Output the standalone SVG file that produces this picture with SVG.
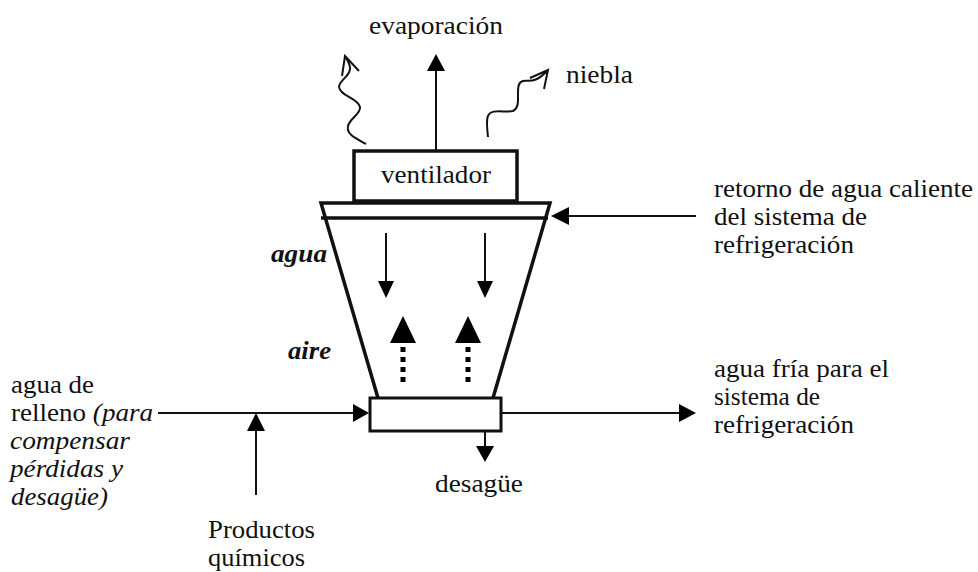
<svg xmlns="http://www.w3.org/2000/svg" width="978" height="572" viewBox="0 0 978 572">
<style>
text{font-family:"Liberation Serif","Times New Roman",serif;font-size:25.5px;fill:#111}
.i{font-style:italic}.b{font-weight:bold;font-style:italic}
.thin{fill:none;stroke:#111;stroke-width:2}
.thick{fill:none;stroke:#111;stroke-width:3.5}
.box{fill:#fff;stroke:#111;stroke-width:3}
.head{fill:#000;stroke:none}
.dash{fill:none;stroke:#000;stroke-width:5;stroke-dasharray:5 5}
</style>
<rect width="978" height="572" fill="#fff"/>
<g id="connectors">
<path class="thin" d="M436 150V70"/><polygon class="head" points="436,54 427,71 445,71"/>
<path class="thin" d="M366 144C355 138 346 134 348 126C350 118 361 114 360 107C358 98 340 96 339 87C339 80 351 76 350 68C350 63 347 60 345 56M342 76L345 56L359 71"/>
<path class="thin" d="M488 137C487 128 486 120 488 116C491 108 505 113 513 111C519 108 518 100 518 94C518 88 518 82 523 81C530 80 535 84 548 70M530 78L548 70L544 89"/>
<path class="thin" d="M696 216H568"/><polygon class="head" points="551,216 569,207 569,225"/>
<path class="thin" d="M386 233V282"/><polygon class="head" points="386,298 378,281 394,281"/>
<path class="thin" d="M485 233V282"/><polygon class="head" points="485,298 477,281 493,281"/>
<path class="dash" d="M403 347V382"/><polygon class="head" points="403,316 390,343 416,343"/>
<path class="dash" d="M468 347V382"/><polygon class="head" points="468,316 455,343 481,343"/>
<path class="thin" d="M158 413H354"/><polygon class="head" points="369,413 353,404 353,422"/>
<path class="thin" d="M256 495V431"/><polygon class="head" points="256,413 247,431 265,431"/>
<path class="thin" d="M501 413H680"/><polygon class="head" points="696,413 679,404 679,422"/>
<path class="thin" d="M485 432V448"/><polygon class="head" points="485,462 476,446 494,446"/>
</g>
<g id="torre"><path class="thick" d="M378 398L321 203H550L493 398"/><path class="thick" d="M321 218H548"/></g>
<g id="ventilador"><rect class="box" x="354" y="151" width="163" height="50" style="stroke-width:3.5"/><text x="381" y="183" textLength="110" lengthAdjust="spacingAndGlyphs">ventilador</text></g>
<g id="deposito"><rect class="box" x="370" y="398" width="131" height="33"/></g>
<g id="labels">
<text x="369" y="34" textLength="134" lengthAdjust="spacingAndGlyphs">evaporación</text>
<text x="566" y="83" textLength="67" lengthAdjust="spacingAndGlyphs">niebla</text>
<text x="714" y="197" textLength="259" lengthAdjust="spacingAndGlyphs">retorno de agua caliente</text>
<text x="714" y="225" textLength="153" lengthAdjust="spacingAndGlyphs">del sistema de</text>
<text x="714" y="253" textLength="140" lengthAdjust="spacingAndGlyphs">refrigeración</text>
<text class="b" x="271" y="262" textLength="56" lengthAdjust="spacingAndGlyphs">agua</text>
<text class="b" x="288" y="359" textLength="43" lengthAdjust="spacingAndGlyphs">aire</text>
<text x="11" y="393" textLength="83" lengthAdjust="spacingAndGlyphs">agua de</text>
<text x="11" y="421" textLength="142" lengthAdjust="spacingAndGlyphs">relleno <tspan class="i">(para</tspan></text>
<text class="i" x="10" y="449" textLength="120" lengthAdjust="spacingAndGlyphs">compensar</text>
<text class="i" x="10" y="477" textLength="113" lengthAdjust="spacingAndGlyphs">pérdidas y</text>
<text class="i" x="11" y="505" textLength="97" lengthAdjust="spacingAndGlyphs">desagüe)</text>
<text x="714" y="377" textLength="175" lengthAdjust="spacingAndGlyphs">agua fría para el</text>
<text x="714" y="405" textLength="106" lengthAdjust="spacingAndGlyphs">sistema de</text>
<text x="714" y="433" textLength="140" lengthAdjust="spacingAndGlyphs">refrigeración</text>
<text x="435" y="492" textLength="88" lengthAdjust="spacingAndGlyphs">desagüe</text>
<text x="208" y="538" textLength="107" lengthAdjust="spacingAndGlyphs">Productos</text>
<text x="208" y="566" textLength="97" lengthAdjust="spacingAndGlyphs">químicos</text>
</g>
</svg>
